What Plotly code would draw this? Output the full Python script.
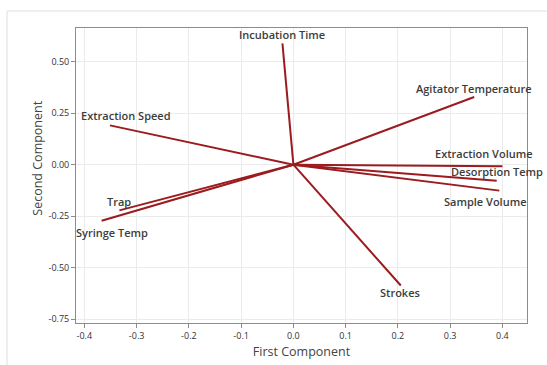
import plotly.graph_objects as go

variables = ["Incubation Time", "Agitator Temperature", "Extraction Speed",
             "Extraction Volume", "Desorption Temp", "Sample Volume",
             "Strokes", "Trap", "Syringe Temp"]
pc1 = [-0.021, 0.346, -0.351, 0.400, 0.389, 0.394, 0.2055, -0.333, -0.367]
pc2 = [0.589, 0.329, 0.191, -0.008, -0.078, -0.126, -0.587, -0.222, -0.272]
label_x = [-0.0216, 0.346, -0.320, 0.364, 0.390, 0.367, 0.204, -0.333, -0.347]
label_y = [0.631, 0.369, 0.238, 0.053, -0.034, -0.181, -0.621, -0.180, -0.331]
x_ticks = [-0.4, -0.3, -0.2, -0.1, 0.0, 0.1, 0.2, 0.3, 0.4]
y_ticks = [-0.75, -0.50, -0.25, 0.00, 0.25, 0.50]

line_color = "#9b1b1f"
fig = go.Figure()
for name, a, b in zip(variables, pc1, pc2):
    fig.add_trace(go.Scatter(x=[0, a], y=[0, b], mode="lines", name=name,
                             line=dict(color=line_color, width=2),
                             showlegend=False, hoverinfo="skip"))

for name, lx, ly in zip(variables, label_x, label_y):
    fig.add_annotation(x=lx, y=ly, text=name, showarrow=False,
                       xanchor="center", yanchor="middle",
                       font=dict(family="Open Sans", size=11, color="#3c3c3c", weight=600))

L, R, T, B = 76, 20, 28, 42
W, H = 547, 365
pw, ph = W - L - R, H - T - B
fx = (7 - L) / pw
fy = 1 + (T - 11) / ph
fig.add_shape(type="line", xref="paper", yref="paper", x0=fx, x1=fx, y0=-1, y1=fy,
              line=dict(color="#dedede", width=1))
fig.add_shape(type="line", xref="paper", yref="paper", x0=fx, x1=2, y0=fy, y1=fy,
              line=dict(color="#dedede", width=1))

# y-axis title (placed slightly above plot centre, as in the reference)
fig.add_annotation(xref="paper", yref="paper", x=(36.7 - L) / pw, y=(H - B - 158) / ph,
                   text="Second Component", textangle=-90, showarrow=False,
                   xanchor="center", yanchor="middle",
                   font=dict(family="Open Sans", size=12.5, color="#444444"))

axis_common = dict(showgrid=True, gridcolor="#ebebeb", gridwidth=1, automargin=False,
                   zeroline=False, showline=True, linecolor="#8c8c8c", linewidth=1,
                   mirror=True, ticks="outside", ticklen=4, tickcolor="#8c8c8c",
                   tickfont=dict(family="Open Sans", size=9, color="#333333"))

fig.update_xaxes(range=[-0.416, 0.447], tickvals=x_ticks,
                 ticktext=[f"{v:.1f}" for v in x_ticks],
                 title=dict(text="First Component", standoff=6,
                            font=dict(family="Open Sans", size=12.5, color="#444444")),
                 **axis_common)
fig.update_yaxes(range=[-0.769, 0.664], tickvals=y_ticks,
                 ticktext=[f"{v:.2f}" for v in y_ticks],
                 **axis_common)

fig.update_layout(width=W, height=H, margin=dict(l=L, r=R, t=T, b=B, autoexpand=False),
                  plot_bgcolor="white", paper_bgcolor="white")
fig.write_html("out.html")
